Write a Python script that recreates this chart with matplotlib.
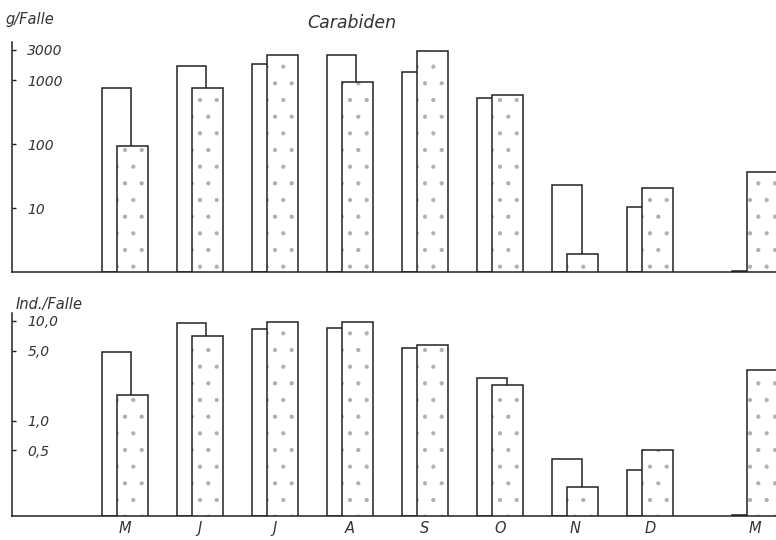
import numpy as np
import matplotlib.pyplot as plt

months = ["M", "J", "J", "A", "S", "O", "N", "D", "M"]
# positions of the month groups (gap before the last one)
group_pos = [0, 1, 2, 3, 4, 5, 6, 7, 8.4]

# g/Falle (open = first series, dotted = second series)
weight_open = [760, 1700, 1800, 2500, 1350, 530, 23, 10.5, 1.04]
weight_dot = [95, 760, 2500, 950, 2900, 590, 1.9, 21, 37]

# Ind./Falle
ind_open = [4.9, 9.5, 8.3, 8.5, 5.3, 2.7, 0.41, 0.32, 0.113]
ind_dot = [1.8, 7.1, 9.8, 9.8, 5.7, 2.25, 0.215, 0.50, 3.2]

top_ticks = [10, 100, 1000, 3000]
top_labels = ["10", "100", "1000", "3000"]
bot_ticks = [0.5, 1.0, 5.0, 10.0]
bot_labels = ["0,5", "1,0", "5,0", "10,0"]

ink = "#222222"
txt = "#333333"
plt.rcParams["font.family"] = "DejaVu Sans"
plt.rcParams["hatch.linewidth"] = 0.6


def draw_panel(ax, open_vals, dot_vals, bottom):
    x = np.array(group_pos)
    w = 0.39
    off = 0.2
    ax.bar(x, np.array(open_vals) - bottom, bottom=bottom, width=w,
           align="edge", facecolor="white", edgecolor=ink, linewidth=1.1,
           zorder=2)
    # dotted bars: white fill + grey dots, then black outline on top
    ax.bar(x + off, np.array(dot_vals) - bottom, bottom=bottom, width=w + 0.02,
           align="edge", facecolor="white", edgecolor="#b0b0b0", hatch=".",
           linewidth=0, zorder=3)
    ax.bar(x + off, np.array(dot_vals) - bottom, bottom=bottom, width=w + 0.02,
           align="edge", facecolor="none", edgecolor=ink, linewidth=1.1,
           zorder=4)
    ax.set_yscale("log")
    ax.set_xlim(-1.2, 8.98)
    for side in ("top", "right"):
        ax.spines[side].set_visible(False)
    for side in ("left", "bottom"):
        ax.spines[side].set_color(ink)
        ax.spines[side].set_linewidth(1.1)
    ax.minorticks_off()
    ax.tick_params(axis="y", direction="in", length=3, width=1, color=ink,
                   pad=-11, labelsize=10, labelcolor=txt)
    ax.tick_params(axis="x", length=0, labelsize=10.5, labelcolor=txt)


fig = plt.figure(figsize=(7.76, 5.40), dpi=100)

ax1 = fig.add_axes([12 / 776, (540 - 272) / 540, 764 / 776, 230 / 540])
draw_panel(ax1, weight_open, weight_dot, 1.0)
ax1.set_ylim(1, 4000)
ax1.set_yticks(top_ticks)
ax1.set_yticklabels(top_labels, style="italic", ha="left")
ax1.set_xticks([])
ax1.text(-1.29, 1.065, "g/Falle", transform=ax1.get_xaxis_transform(),
         fontsize=10.5, style="italic", color=txt, va="bottom")
ax1.text(0.445, 1.045, "Carabiden", transform=ax1.transAxes, fontsize=12.5,
         style="italic", color=txt, ha="center", va="bottom")

ax2 = fig.add_axes([12 / 776, (540 - 516) / 540, 764 / 776, 203 / 540])
draw_panel(ax2, ind_open, ind_dot, 0.11)
ax2.set_ylim(0.11, 12)
ax2.set_yticks(bot_ticks)
ax2.set_yticklabels(bot_labels, style="italic", ha="left")
ax2.set_xticks(np.array(group_pos) + 0.3)
ax2.set_xticklabels(months, style="italic")
ax2.text(-1.15, 1.005, "Ind./Falle", transform=ax2.get_xaxis_transform(),
         fontsize=10.5, style="italic", color=txt, va="bottom")

fig.savefig("out.png", dpi=100)
